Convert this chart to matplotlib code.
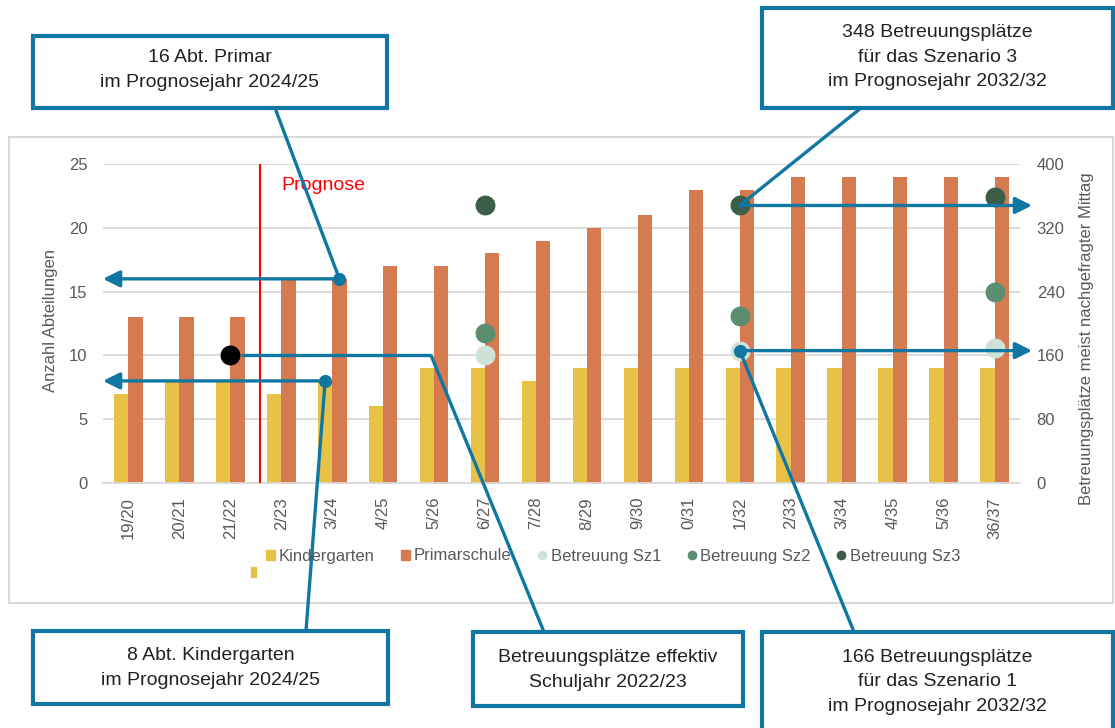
"""Abteilungen und Betreuungsplaetze je Schuljahr mit Prognose."""
import matplotlib
matplotlib.use("Agg")
import matplotlib.pyplot as plt
from matplotlib.lines import Line2D
from matplotlib.patches import Rectangle, Patch, FancyArrowPatch

plt.rcParams["font.family"] = ["Liberation Sans", "DejaVu Sans"]

# --- Daten ---
jahre = ["19/20", "20/21", "21/22", "2/23", "3/24", "4/25", "5/26", "6/27",
         "7/28", "8/29", "9/30", "0/31", "1/32", "2/33", "3/34", "4/35",
         "5/36", "36/37"]
kindergarten = [7, 8, 8, 7, 8, 6, 9, 9, 8, 9, 9, 9, 9, 9, 9, 9, 9, 9]
primarschule = [13, 13, 13, 16, 16, 17, 17, 18, 19, 20, 21, 23, 23, 24, 24, 24, 24, 24]
sz_idx = [7, 12, 17]
betreuung_sz1 = [160, 166, 169]
betreuung_sz2 = [188, 210, 240]
betreuung_sz3 = [348, 348, 358]
effektiv_idx = 2
effektiv_wert = 160
prognose_start = 2.58

GELB = "#E8C147"
ORANGE = "#D67B4F"
SZ1 = "#CFE2D8"
SZ2 = "#5B8E6F"
SZ3 = "#3A5E48"
BLAU = "#1077A2"
GRID = "#D9D9D9"
GRAU = "#595959"
TXT = "#222222"

W, H = 1115, 728
fig = plt.figure(figsize=(W / 100, H / 100), dpi=100)


def px(x, y):
    return (x / W, 1 - y / H)


# äusserer Rahmen
fig.add_artist(Rectangle(px(9, 603), (1113 - 9) / W, (603 - 137) / H,
                         transform=fig.transFigure, fill=False,
                         edgecolor=GRID, lw=1.5))

ax = fig.add_axes([103 / W, 1 - 483 / H, (1020 - 103) / W, (483 - 164) / H])
ax2 = ax.twinx()
x = list(range(len(jahre)))
bw = 0.28
ax.bar([i - bw / 2 for i in x], kindergarten, width=bw, color=GELB, zorder=2)
ax.bar([i + bw / 2 for i in x], primarschule, width=bw, color=ORANGE, zorder=2)
ax.set_xlim(-0.5, len(jahre) - 0.5)
ax.set_ylim(0, 25)
ax.set_yticks(range(0, 26, 5))
ax.grid(axis="y", color=GRID, lw=1.3, zorder=0)
ax.set_axisbelow(True)
ax.set_xticks(x)
ax.set_xticklabels(jahre, rotation=90, fontsize=12, color=GRAU)
ax.tick_params(axis="x", length=0, pad=10)
ax.tick_params(axis="y", length=0, pad=11, labelsize=12, labelcolor=GRAU)
for s in ["top", "left", "right"]:
    ax.spines[s].set_visible(False)
ax.spines["bottom"].set_color(GRID)
ax.spines["bottom"].set_linewidth(1.3)

ax.axvline(prognose_start, color="#FF0000", lw=1.5, zorder=3)
ax.text(prognose_start + 0.43, 23.35, "Prognose", color="#FF0000",
        fontsize=14, va="center", ha="left")

ax2.set_ylim(0, 400)
ax2.set_yticks(range(0, 401, 80))
ax2.tick_params(axis="y", length=0, pad=12, labelsize=12, labelcolor=GRAU)
for s in ax2.spines.values():
    s.set_visible(False)
ms = 205
ax2.scatter(sz_idx, betreuung_sz1, s=ms, color=SZ1, zorder=4, lw=0)
ax2.scatter(sz_idx, betreuung_sz2, s=ms, color=SZ2, zorder=4, lw=0)
ax2.scatter(sz_idx, betreuung_sz3, s=ms, color=SZ3, zorder=4, lw=0)
ax2.scatter([effektiv_idx], [effektiv_wert], s=ms, color="black", zorder=4, lw=0)

fig.text(51 / W, 1 - 320 / H, "Anzahl Abteilungen", rotation=90,
         ha="center", va="center", fontsize=12, color=GRAU)
fig.text(1086 / W, 1 - 339 / H, "Betreuungsplätze meist nachgefragter Mittag",
         rotation=90, ha="center", va="center", fontsize=12, color=GRAU)

# Legende
handles = [
    Patch(color=GELB, label="Kindergarten"),
    Patch(color=ORANGE, label="Primarschule"),
    Line2D([], [], ls="", marker="o", ms=7, mec="none", color=SZ1, label="Betreuung Sz1"),
    Line2D([], [], ls="", marker="o", ms=7, mec="none", color=SZ2, label="Betreuung Sz2"),
    Line2D([], [], ls="", marker="o", ms=7, mec="none", color=SZ3, label="Betreuung Sz3"),
]
fig.legend(handles=handles, loc="center", bbox_to_anchor=px(613, 556), ncol=5,
           frameon=False, fontsize=12, labelcolor=GRAU, handlelength=0.55,
           handleheight=0.55, handletextpad=0.25, columnspacing=1.55)
fig.add_artist(Rectangle(px(251, 577), 5 / W, 10 / H, transform=fig.transFigure,
                         color=GELB))

# --- Anmerkungen ---
fig.canvas.draw()
inv = fig.transFigure.inverted()


def dat(a, xv, yv):
    return tuple(inv.transform(a.transData.transform((xv, yv))))


def linie(p0, p1):
    fig.add_artist(Line2D([p0[0], p1[0]], [p0[1], p1[1]], color=BLAU, lw=2.4,
                          transform=fig.transFigure, solid_capstyle="butt"))


def pfeil(p0, p1):
    fig.add_artist(FancyArrowPatch(p0, p1, transform=fig.transFigure,
                                   arrowstyle="-|>,head_length=1.0,head_width=0.5",
                                   mutation_scale=10, color=BLAU, lw=2.4,
                                   shrinkA=0, shrinkB=0))


def punkt(p):
    fig.add_artist(Line2D([p[0]], [p[1]], marker="o", ms=9.5, color=BLAU,
                          mec="none", transform=fig.transFigure))


def box(x0, y0, x1, y1, text, ty):
    fig.add_artist(Rectangle(px(x0, y1), (x1 - x0) / W, (y1 - y0) / H,
                             transform=fig.transFigure, facecolor="white",
                             edgecolor=BLAU, lw=3, zorder=5))
    fig.text((x0 + x1) / 2 / W, 1 - ty / H, text, ha="center", va="center",
             fontsize=14, color=TXT, linespacing=1.55, zorder=6)


left_edge = px(103, 0)[0]
right_tip = px(1032, 0)[0]

# 16 Abt. Primar
p = dat(ax, 4 + bw / 2, primarschule[4])
pfeil(p, (left_edge, p[1]))
linie(p, px(275, 108))
punkt(p)

# 8 Abt. Kindergarten
p = dat(ax, 4 - bw / 2, kindergarten[4])
pfeil(p, (left_edge, p[1]))
linie(p, px(306, 631))
punkt(p)

# Betreuungsplaetze effektiv
p = dat(ax2, effektiv_idx + 0.2, effektiv_wert)
q = dat(ax2, 5.94, effektiv_wert)
linie(p, q)
linie(q, px(544, 632))

# Szenario 1
p = dat(ax2, sz_idx[1], betreuung_sz1[1])
pfeil(p, (right_tip, p[1]))
linie(p, px(854, 632))
punkt(p)

# Szenario 3
p = dat(ax2, sz_idx[1], betreuung_sz3[1])
pfeil(p, (right_tip, p[1]))
linie(p, px(861, 108))

box(33, 36, 387, 108, "16 Abt. Primar\nim Prognosejahr 2024/25", 70)
box(762, 8, 1113, 108,
    "348 Betreuungsplätze\nfür das Szenario 3\nim Prognosejahr 2032/32", 57)
box(33, 631, 388, 704, "8 Abt. Kindergarten\nim Prognosejahr 2024/25", 668)
box(473, 632, 743, 706, "Betreuungsplätze effektiv\nSchuljahr 2022/23", 670)
box(762, 632, 1113, 745,
    "166 Betreuungsplätze\nfür das Szenario 1\nim Prognosejahr 2032/32", 682)

fig.savefig("out.png", dpi=100)
